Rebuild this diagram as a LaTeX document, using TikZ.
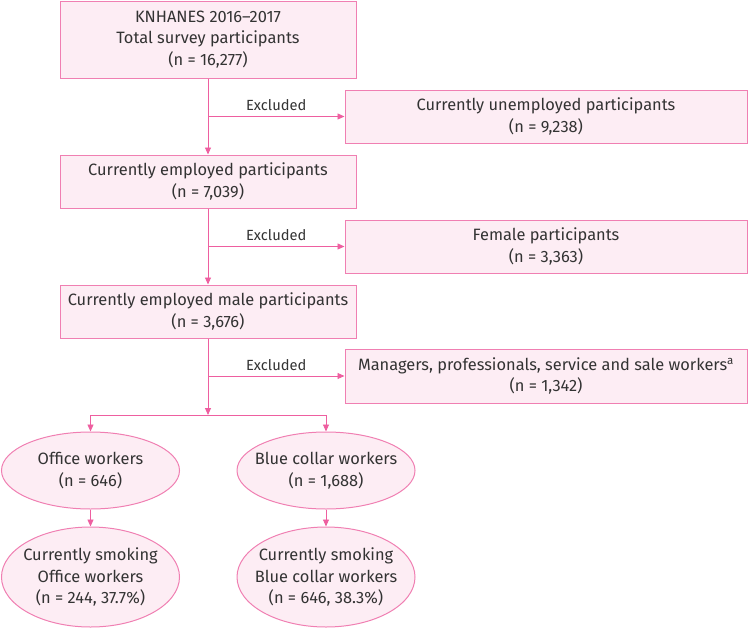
\documentclass[tikz,border=0pt]{standalone}
\usepackage{fontspec}
\setmainfont{Fira Sans}
\usetikzlibrary{shapes.geometric,arrows.meta}
\definecolor{pinkline}{HTML}{EE5FA0}
\definecolor{pinkedge}{HTML}{F07FB2}
\definecolor{pinkfill}{HTML}{FDEDF4}
\definecolor{txt}{HTML}{333333}
\begin{document}
\begin{tikzpicture}[x=1pt,y=-1pt,
	every node/.style={text=txt, font=\fontsize{16.4}{21.5}\selectfont, align=center},
	box/.style={draw=pinkedge, fill=pinkfill, line width=1pt, rectangle, inner sep=0pt, minimum height=53pt},
	oval/.style={draw=pinkedge, fill=pinkfill, line width=1pt, ellipse, inner ysep=0pt, inner xsep=-14pt, minimum width=178pt},
	conn/.style={draw=pinkline, line width=0.9pt},
	arr/.style={conn, -{Triangle[width=6pt,length=7pt]}},
	exlabel/.style={font=\fontsize{14.7}{16}\selectfont, above=2pt, midway}]
			\useasboundingbox (0,0) rectangle (749,629);
			\node[box, minimum width=296pt, minimum height=77pt] (total) at (208,39.5) {KNHANES 2016--2017\\Total survey participants\\(n = 16,277)};
			\node[box, minimum width=296pt] (employed) at (208,181.5) {Currently employed participants\\(n = 7,039)};
			\node[box, minimum width=296pt] (male) at (208,311.5) {Currently employed male participants\\(n = 3,676)};
			\node[box, minimum width=402pt] (unemp) at (546,116.5) {Currently unemployed participants\\(n = 9,238)};
			\node[box, minimum width=402pt] (female) at (546,246.5) {Female participants\\(n = 3,363)};
			\node[box, minimum width=402pt, minimum height=54pt] (managers) at (546,376) {Managers, professionals, service and sale workers\textsuperscript{a}\\(n = 1,342)};

			\node[oval, minimum height=77pt] (office) at (90.5,470.5) {Office workers\\(n = 646)};
			\node[oval, minimum height=77pt] (blue) at (326,470.5) {Blue collar workers\\(n = 1,688)};
			\node[oval, minimum height=100pt] (smokeoffice) at (90.5,577) {Currently smoking\\Office workers\\(n = 244, 37.7\%)};
			\node[oval, minimum height=100pt] (smokeblue) at (326,577) {Currently smoking\\Blue collar workers\\(n = 646, 38.3\%)};

			\coordinate (split) at (208,415);
			\draw[arr] (total) -- (employed);
			\draw[arr] (employed) -- (male);
			\draw[arr] (male) -- (split);
			\foreach \from\to in {total/unemp,employed/female,male/managers}{
				\draw[arr] (\from.south |- \to.west) -- (\to.west) node[exlabel] {Excluded};
			}
			\draw[conn] (office.north |- split) -- (blue.north |- split);
			\foreach \n\m in {office/smokeoffice,blue/smokeblue}{
				\draw[arr] (\n.north |- split) -- (\n.north);
				\draw[arr] (\n) -- (\m);
			}

		\end{tikzpicture}
\end{document}
